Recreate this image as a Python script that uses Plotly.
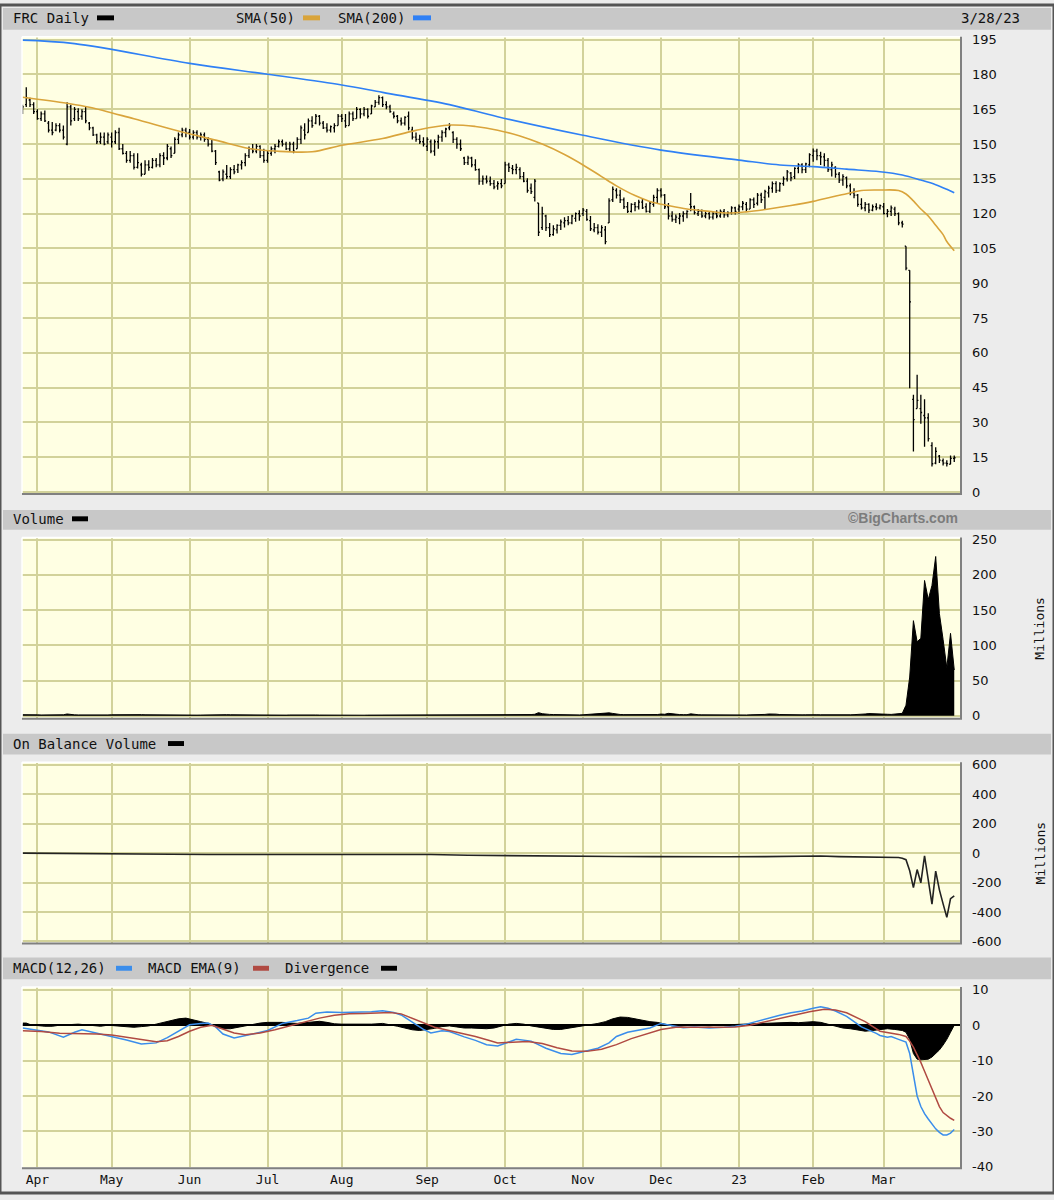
import pandas as pd
import plotly.graph_objects as go

W, H = 1054, 1200

# ---------------- trading calendar ----------------
holidays = ["2022-04-15", "2022-05-30", "2022-06-20", "2022-07-04", "2022-09-05",
            "2022-11-24", "2022-12-26", "2023-01-02", "2023-01-16", "2023-02-20"]
dates = [d for d in pd.bdate_range("2022-03-28", "2023-03-28")
         if d.strftime("%Y-%m-%d") not in holidays]
n = len(dates)
idx = list(range(n))

month_labels = ["Apr", "May", "Jun", "Jul", "Aug", "Sep", "Oct", "Nov", "Dec", "23", "Feb", "Mar"]
month_pos = []
_prev = None
for i, d in enumerate(dates):
    key = (d.year, d.month)
    if _prev is not None and key != _prev:
        month_pos.append(i)
    _prev = key

# ---------------- price data ----------------
opens = [164,167,169,167,164,161,163,159,156,156,158,156,150,166,161,164,162,164,159,157,
         154,151,153,151,153,151,155,148,146,143,145,140,141,137,141,140,143,141,145,144,
         148,146,152,154,156,155,153,155,153,154,152,150,147,138,135,137,136,139,139,141,
         142,145,148,147,149,145,143,146,148,149,151,150,148,150,148,152,156,155,160,159,
         162,159,157,156,157,158,162,160,158,163,161,165,163,165,163,166,168,170,167,166,
         163,162,160,159,162,156,153,152,151,149,151,147,151,153,155,157,155,152,150,144,
         142,144,141,139,134,135,134,133,132,133,133,141,139.5,139,139,136,134,131,127,124.6,
         114,119,114,111,113,115,116,117,116,118,120,120,121,117,113,114,112,113,116,126,
         130,128,126,123,121,124,123,125,123,121,124,127,130,128,123,119,117.5,118,119,120,
         124,123,120,121,119,120,118.5,120,119,121,119.5,120.5,122.5,122,123,124,122,126,124.5,128,
         127,129,131,133,130,133,135,137.5,136,139.5,141,139,141,145,147,145,144.5,143,139,140,
         137,134.5,135.5,132,129,128,124,122.5,124,121.5,123,122.5,123,120,121,122,120,116,106,95.6,
         40,36,36,33,32,20,12.5,15.5,13.5,12.5,12,14.5]
highs = [167,174.5,170,168,165,164,164.5,160,159.5,159,159,158,168,167,166,165.5,165,166,159.5,157.5,
         154.5,155,155,155,155,156,157,150,147,147,146,146,142,143,143,144,144,146,146.5,150,
         149,153,155,157,157,156.5,156,156,155,155,153,152,147.5,138.5,139,141,140,141,141.5,143,
         146,149,150,150,149.5,148,147,149,150,152,152,151,151,151,153,158,159,161,162,163,
         162.5,160,159,158,159,163,163,163,164,164,166,165.5,166,165.5,167,169,171,170.5,168.5,167,
         164,162.5,161.5,162,164,157.5,155,154,153,153,152,152,154,156,157,159,155.5,153,152,144.5,
         145,144.5,143.5,139.5,136.5,136.5,136,134.5,134,135,142.4,142,141,141.5,140,138,135.3,133,135,124.6,
         123,119.5,116,115,115.5,117.5,118.5,119,119.5,120.5,121.5,122.5,122,119,116,115.5,115,114.7,126.7,131.7,
         131,130.3,127,125,124.5,125,126,126.5,124.5,125,128.2,131,131,128.5,124.6,121,119.6,120.3,121,121.5,
         128.9,123.5,122,121.8,121,121,121,121.5,121.8,122,121,123.2,123,124,125.5,125,126.7,127,128.9,129,
         130.3,132,133.9,134,133.5,136,138.8,138,140,141.7,141.7,142,146,148.1,148,146.7,146,144,142.4,140.5,
         138,137,136,133,131,128.5,126.7,125,124.5,124,124.5,124,124.6,122,123.5,123,120.5,117,106,95.6,
         42,50.6,42,40,34,21.5,19.3,16,14.5,13.7,15.8,15.8]
lows = [163,166,166,163,160.5,160,159.5,155,153.8,155.5,155,152,149.5,158,160,160,160.5,159,156,153.5,
        150,150,149.5,150,148.5,150,147.5,145.5,142,142,139,139.5,136,137,138.5,139.5,140,140,141,143,
        144,146,150,153,153,152,152,152,151.5,151,149,146.5,141,134,134,135,135,137,137.5,139,
        140.5,144,146,146,144,142,142,145,146,148.5,149,147.5,147,146,148,150,152,155,157,158.5,
        158,156.5,155,155,155,158,159.5,157,158,160,161,161,162,161,163,166,167,166,165,163.5,
        161,159,158,158,156,152,151,150,149,147,146,145,148,151,153,156,150.5,148,147,141,
        141,140,138.5,132.5,132.5,133,132,130.5,130.3,131,133,138,137,137,135,133.5,129,128.5,125.3,110.4,
        113,112.5,110,110.5,111.5,113,114,115,115.5,116.5,117,119,117,112.5,112,111,110,106.8,116,125,
        126.5,124.6,122,120.3,120.5,121,121.8,122,120.5,120.3,123,124.6,127,122,117.5,116.5,116,115.4,116.5,118,
        121,119.6,119,118.2,118,117.5,117.5,118,118.2,118.2,118.5,119.6,119.6,120,121.5,121,122,122.5,123.5,124.6,
        121.8,127,129,128.9,129.5,132,133.9,134,135,137.4,137.4,137.5,140,142.4,143,141,140.3,138,136,135.5,
        133.2,132,131,128,126.7,123,121.8,121,120.3,121,121.5,121.8,119.6,118.5,119,119,115,114,95.6,44.8,
        17.5,36,29.5,19.5,21.8,11,12,12.5,11.5,11,12,13]
closes = [166,170,167,164,161,163,160,156,155,158,156,153,166,160,165,161,164,160,157,154,
          151,153,150,154,151,155,148,146,143,145,140,142,137,141,140,143,141,145,144,149,
          145,152,154,156,155,153,155,153,154,152,150,147,142,134.5,138,136,139,138,141,142,
          145,148,147,149,145,143,146,148,149,151,150,148,150,147,152,157,154,160,158,162,
          159,157,156,157.5,158,162,161,158,163,161,165,163,165,162,166.5,168,170,167,166,164,
          162,160,159,161.5,157,153,152,151,150,152,147,151,153,155,156.5,158,152,150,148,142,
          144,141,139,134,135,134,133,131.5,133,132,141,140,139,140,136,134,130,129.5,134,112,
          120,114,111,113.5,115,116.5,117,116,119,120,119,121.5,117.5,113.5,114,112,114,108,125.5,130.5,
          128,126,123,121,124,123,125,122.5,121,124.5,127,130,128,123,119,117.5,118.5,119,120,121,
          123,120.5,121,119,120,118.5,120,119,121,119.5,120.5,122.5,121,123,124.5,122,126,124,128,126,
          129.5,131,133,130,133,135,138,135.5,139.5,141,139,141.5,145.5,147,145,144.5,143,139,141,137,
          134.5,136,132,129,128,124,122.5,124,121.5,123,122.5,123.5,120,121,122.5,120,116,115.5,96.5,82,
          31.2,39.5,34.3,32,23,12.2,17.5,13.8,12.5,12.3,14.5,14.8]

# moving averages
sma50_idx = [0, 12, 18, 30, 43, 52, 61, 68, 78, 86, 97, 106, 115, 122, 128, 134, 140, 146, 151,
             156, 160, 165, 169, 174, 179, 185, 190, 195, 201, 207, 213, 218, 222, 226, 231, 236,
             238, 240, 242, 244, 246, 248, 249, 251]
sma50_val = [170.2, 167.6, 165.9, 160.9, 155.2, 151.7, 148.1, 147.0, 146.7, 149.5, 152.4, 155.9,
             158.2, 157.6, 156.0, 153.5, 150.0, 145.5, 141.0, 136.0, 132.0, 127.8, 125.3, 123.5,
             122.0, 121.0, 120.3, 120.8, 122.0, 123.5, 125.3, 127.2, 128.6, 130.0, 130.2, 130.0,
             128.5, 125.5, 122.0, 119.0, 115.0, 111.0, 108.0, 104.0]
sma200_idx = [0, 14, 45, 66, 86, 97, 115, 128, 151, 172, 193, 204, 213, 222, 231, 237, 242, 246,
              249, 251]
sma200_val = [194.8, 193.3, 184.8, 180.1, 175.5, 172.3, 167.0, 161.8, 153.8, 147.4, 143.1, 141.0,
              140.3, 139.2, 138.1, 136.7, 134.5, 132.5, 130.5, 129.0]

# ---------------- volume (millions) ----------------
volume = [1.6,1.8,1.4,1.3,1.4,1.2,1.3,1.5,1.4,1.2,1.3,1.5,2.6,1.8,1.4,1.3,1.2,1.4,1.3,1.5,
          1.6,1.3,1.4,1.3,1.5,1.6,1.9,1.7,1.6,1.4,1.8,1.6,1.7,1.5,1.4,1.3,1.3,1.2,1.2,1.4,
          1.3,1.5,1.4,1.3,1.2,1.2,1.1,1.0,1.1,1.2,1.3,1.5,1.9,2.4,1.8,1.6,1.5,1.4,1.3,1.3,
          1.2,1.3,1.2,1.1,1.2,1.3,1.1,1.0,1.1,1.2,1.1,1.0,1.2,1.3,1.4,1.8,1.6,1.4,1.3,1.2,
          1.1,1.0,1.0,1.1,1.0,1.2,1.1,1.1,1.0,0.9,1.0,0.9,0.9,1.0,1.0,1.1,1.2,1.0,1.0,0.9,
          1.0,0.9,0.9,1.0,1.2,1.4,1.1,1.0,1.0,1.1,1.2,1.2,1.0,1.1,1.0,1.1,1.2,1.3,1.3,1.6,
          1.4,1.5,1.6,1.8,1.5,1.4,1.5,1.6,1.3,1.4,1.7,1.5,1.3,1.3,1.4,1.5,1.6,1.8,2.2,4.5,
          3.0,2.2,2.0,1.8,1.6,1.5,1.4,1.4,1.3,1.4,1.3,1.5,1.8,2.6,2.8,3.2,3.5,4.0,4.2,3.4,
          2.4,1.9,1.7,1.6,1.5,1.4,1.3,1.4,1.3,1.4,1.6,1.8,2.5,2.2,3.5,2.6,1.9,1.8,1.7,1.6,
          2.8,1.8,1.6,1.4,1.3,1.3,1.2,1.3,1.2,1.2,1.1,1.2,1.3,1.4,1.3,1.2,1.4,1.3,1.5,1.6,
          2.0,2.6,3.0,2.4,1.8,1.6,1.7,1.5,1.6,1.5,1.4,1.5,1.8,1.7,1.6,1.5,1.4,1.3,1.4,1.3,
          1.4,1.5,1.6,1.5,1.7,1.8,2.0,2.6,3.2,2.8,2.6,2.0,1.8,2.2,2.0,2.4,3.0,3.5,15,55,
          135,105,110,192,165,185,226,145,108,68,117,65]

# ---------------- on balance volume (millions) ----------------
obv_idx = [0, 10, 20, 30, 40, 50, 60, 70, 80, 90, 100, 105, 110, 120, 130, 140, 150, 160, 170,
           180, 190, 200, 210, 215, 220, 225, 230, 234, 236, 237, 238, 239, 240, 241, 242, 243,
           244, 245, 246, 247, 248, 249, 250, 251]
obv_val = [0, -3, -5, -10, -8, -10, -10, -8, -8, -6, -7, -5, -10, -15, -18, -20, -22, -23, -24,
           -26, -25, -24, -18, -20, -24, -25, -26, -27, -30, -35, -45, -120, -235, -112, -202, -18,
           -180, -347, -123, -250, -345, -437, -310, -290]

# ---------------- MACD ----------------
macd_idx = [0, 3, 7, 11, 14, 16, 19, 24, 28, 32, 36, 39, 42, 45, 48, 50, 52, 54, 57, 60, 62, 66,
            70, 74, 77, 79, 82, 86, 91, 94, 97, 100, 102, 104, 106, 108, 110, 113, 115, 117, 119,
            122, 125, 128, 133, 137, 141, 145, 148, 151, 155, 158, 160, 163, 166, 169, 172, 175,
            178, 181, 185, 189, 192, 195, 198, 201, 204, 207, 210, 213, 215, 217, 219, 222, 226,
            230, 231, 233, 234, 236, 237, 238, 239, 240, 241, 242, 243, 244, 245, 246, 247, 248,
            249, 250, 251]
macd_val = [-0.8, -1.2, -1.9, -3.4, -2.0, -1.3, -2.0, -3.1, -4.2, -5.3, -5.0, -3.5, -1.7, 0.1, 0.5,
            0.6, -0.5, -2.5, -3.6, -3.0, -2.5, -1.5, 0.5, 1.3, 2.0, 3.4, 3.7, 3.6, 3.7, 3.8, 4.1, 3.6,
            2.9, 1.5, 0.1, -1.2, -2.2, -1.6, -1.8, -2.6, -3.3, -4.3, -5.5, -5.9, -4.0, -4.5, -6.5,
            -8.0, -8.3, -7.5, -6.5, -5.0, -3.2, -2.0, -1.5, -0.8, 0.5, 0.0, -0.7, -0.5, -0.8, -0.6,
            -0.3, 0.3, 1.2, 2.0, 2.8, 3.5, 4.0, 4.8, 5.2, 4.8, 4.0, 2.5, -0.5, -2.3, -2.9, -3.4,
            -3.2, -4.0, -4.3, -4.8, -8.0, -14.0, -20.0, -23.0, -25.0, -26.5, -28.0, -29.3, -30.3,
            -31.0, -31.0, -30.5, -29.5]
signal_idx = [0, 5, 10, 15, 20, 24, 28, 32, 36, 39, 42, 45, 48, 51, 54, 57, 60, 64, 68, 72, 76,
              80, 84, 88, 92, 96, 99, 102, 105, 108, 111, 114, 118, 122, 126, 128, 132, 136, 140,
              144, 148, 152, 156, 160, 164, 168, 172, 176, 180, 184, 188, 192, 196, 200, 204, 208,
              212, 216, 219, 222, 227, 231, 236, 238, 239, 240, 241, 242, 243, 244, 245, 246, 247,
              248, 249, 250, 251]
signal_val = [-1.6, -1.8, -2.3, -2.3, -2.5, -2.8, -3.4, -4.0, -4.7, -4.4, -3.2, -1.7, -0.6, 0.0,
              -1.0, -2.2, -2.7, -2.2, -1.3, -0.2, 1.0, 2.0, 2.8, 3.2, 3.3, 3.5, 3.6, 3.2, 2.0, 0.6,
              -0.6, -1.3, -2.2, -3.2, -4.4, -5.0, -4.8, -4.6, -5.2, -6.4, -7.3, -7.4, -6.8, -5.5,
              -3.8, -2.4, -1.2, -0.6, -0.5, -0.6, -0.6, -0.5, 0.0, 1.0, 2.0, 3.0, 3.8, 4.5, 4.3, 3.5,
              1.0, -1.7, -2.6, -3.2, -4.5, -6.2, -8.2, -10.5, -13.0, -15.5, -18.0, -21.0, -23.0,
              -24.7, -25.6, -26.3, -26.9]
div_idx = [0, 1, 2, 3, 6, 8, 10, 13, 15, 17, 19, 21, 23, 26, 28, 30, 32, 34, 36, 38, 40, 42, 44,
           46, 48, 50, 52, 54, 56, 58, 60, 62, 64, 66, 68, 70, 72, 74, 76, 78, 80, 82, 84, 86, 90,
           94, 97, 99, 101, 103, 105, 107, 109, 111, 113, 115, 117, 119, 121, 123, 125, 127, 129,
           131, 133, 135, 137, 139, 141, 143, 145, 147, 149, 151, 153, 155, 157, 159, 161, 163,
           165, 167, 169, 171, 173, 175, 177, 179, 181, 183, 185, 187, 189, 191, 193, 195, 197,
           199, 201, 203, 205, 207, 209, 211, 213, 215, 217, 219, 221, 223, 225, 227, 229, 231,
           233, 235, 237, 238, 239, 240, 241, 242, 243, 244, 245, 246, 247, 248, 249, 250, 251]
div_val = [0.6, 0.6, 0.2, 0.0, -0.3, -0.3, 0.0, 0.2, 0.3, 0.1, -0.2, -0.3, 0.0, -0.3, -0.5, -0.6,
           -0.4, -0.2, 0.3, 0.8, 1.3, 1.8, 2.0, 1.6, 1.0, 0.5, -0.3, -1.0, -1.0, -0.6, -0.2, 0.3,
           0.6, 0.8, 0.9, 0.8, 0.6, 0.5, 0.7, 1.0, 1.1, 0.8, 0.4, 0.3, 0.2, 0.3, 0.5, 0.2, -0.3,
           -0.8, -1.3, -1.5, -1.3, -0.9, -0.4, -0.2, -0.5, -0.8, -0.8, -0.9, -1.0, -0.8, -0.3, 0.3,
           0.5, 0.3, -0.2, -0.6, -1.0, -1.2, -1.2, -0.9, -0.6, -0.2, 0.2, 0.5, 1.0, 1.8, 2.3, 2.2,
           1.8, 1.3, 1.0, 0.8, 0.3, -0.2, -0.3, -0.2, 0.1, -0.1, -0.2, 0.0, 0.1, 0.2, 0.3, 0.4,
           0.5, 0.5, 0.6, 0.7, 0.8, 0.8, 0.7, 0.8, 1.0, 0.8, 0.3, -0.3, -0.8, -1.0, -1.4, -1.7,
           -1.5, -1.2, -1.0, -1.2, -1.5, -2.0, -4.0, -8.0, -9.6, -9.8, -9.8, -9.6, -9.0, -8.0,
           -7.0, -5.6, -4.0, -2.0, 0.0]

# ---------------- helpers ----------------
def PX(x):
    return x / W


def PY(y):
    return 1 - y / H


X_RANGE = [-0.15, 252.55]
PLOT_L, PLOT_R = 22, 960
panels = {  # top, bottom in pixels
    "price": (32, 493),
    "vol": (538, 720),
    "obv": (765, 947),
    "macd": (992, 1174),
}
GRID = "#D2D29A"
MONO = "DejaVu Sans Mono"
SANS = "DejaVu Sans"

fig = go.Figure()

# price
fig.add_trace(go.Ohlc(x=idx, open=opens, high=highs, low=lows, close=closes,
                      increasing=dict(line=dict(color="black", width=1.3)),
                      decreasing=dict(line=dict(color="black", width=1.3)),
                      tickwidth=0.35, xaxis="x", yaxis="y", hoverinfo="skip"))
fig.add_trace(go.Scatter(x=sma50_idx, y=sma50_val, mode="lines", line_shape="spline",
                         line=dict(color="#D9A43B", width=1.6), xaxis="x", yaxis="y"))
fig.add_trace(go.Scatter(x=sma200_idx, y=sma200_val, mode="lines", line_shape="spline",
                         line=dict(color="#2F80F5", width=1.6), xaxis="x", yaxis="y"))
# volume
fig.add_trace(go.Scatter(x=idx, y=volume, mode="lines", fill="tozeroy", fillcolor="black",
                         line=dict(color="black", width=1), xaxis="x2", yaxis="y2"))
# OBV
fig.add_trace(go.Scatter(x=obv_idx, y=obv_val, mode="lines",
                         line=dict(color="#222222", width=1.6), xaxis="x3", yaxis="y3"))
# MACD
fig.add_trace(go.Scatter(x=div_idx, y=div_val, mode="lines", fill="tozeroy", fillcolor="black",
                         line=dict(color="black", width=1), xaxis="x4", yaxis="y4"))
fig.add_trace(go.Scatter(x=macd_idx, y=macd_val, mode="lines",
                         line=dict(color="#3A8DEB", width=1.5), xaxis="x4", yaxis="y4"))
fig.add_trace(go.Scatter(x=signal_idx, y=signal_val, mode="lines",
                         line=dict(color="#B04A42", width=1.5), xaxis="x4", yaxis="y4"))


def xaxis(anchor, show):
    return dict(domain=[PX(PLOT_L), PX(PLOT_R)], anchor=anchor, range=X_RANGE,
                tickmode="array", tickvals=month_pos, ticktext=month_labels,
                showticklabels=show, showgrid=True, gridcolor=GRID, gridwidth=1.5,
                zeroline=False, showline=False, ticks="", fixedrange=True,
                ticklabelstandoff=3,
                tickfont=dict(family=MONO, size=13, color="#111111"),
                rangeslider=dict(visible=False))


def yaxis(anchor, key, rng, vals, texts, zero=False):
    top, bot = panels[key]
    d = dict(domain=[PY(bot), PY(top)], anchor=anchor, side="right", range=rng,
             tickmode="array", tickvals=vals, ticktext=texts, showgrid=True,
             gridcolor=GRID, gridwidth=1.5, zeroline=zero, showline=False, ticks="",
             ticklabelstandoff=11, fixedrange=True,
             tickfont=dict(family=SANS, size=13, color="#111111"))
    if zero:
        d.update(zerolinecolor="black", zerolinewidth=2)
    return d


price_ticks = list(range(0, 196, 15))
vol_ticks = [0, 50, 100, 150, 200, 250]
obv_ticks = [-600, -400, -200, 0, 200, 400, 600]
macd_ticks = [-40, -30, -20, -10, 0, 10]

fig.update_layout(
    width=W, height=H, margin=dict(l=0, r=0, t=0, b=0),
    paper_bgcolor="#ECECEC", plot_bgcolor="#FFFFE3", showlegend=False,
    xaxis=xaxis("y", False), xaxis2=xaxis("y2", False), xaxis3=xaxis("y3", False),
    xaxis4=xaxis("y4", True),
    yaxis=yaxis("x", "price", [-0.43, 196.3], price_ticks, [str(v) for v in price_ticks]),
    yaxis2=yaxis("x2", "vol", [-2.8, 252.8], vol_ticks, [str(v) for v in vol_ticks]),
    yaxis3=yaxis("x3", "obv", [-608, 617], obv_ticks, [str(v) for v in obv_ticks]),
    yaxis4=yaxis("x4", "macd", [-40.15, 10.77], macd_ticks, [str(v) for v in macd_ticks], zero=True),
)

shapes = []
annotations = []

# header strips
strips = [(3, 25), (510, 530), (736, 757), (962, 984)]
for t, b in strips:
    shapes.append(dict(type="rect", xref="paper", yref="paper", x0=PX(3), x1=PX(1051),
                       y0=PY(b), y1=PY(t), fillcolor="#C8C8C8", line=dict(width=0), layer="below"))

# plot borders (3D look)
for key, (t, b) in panels.items():
    shapes.append(dict(type="line", xref="paper", yref="paper", x0=PX(PLOT_L), x1=PX(PLOT_R),
                       y0=PY(t), y1=PY(t), line=dict(color="#FFFFFF", width=1.5)))
    shapes.append(dict(type="line", xref="paper", yref="paper", x0=PX(PLOT_L), x1=PX(PLOT_L),
                       y0=PY(b), y1=PY(t), line=dict(color="#FFFFFF", width=1.5)))
    shapes.append(dict(type="line", xref="paper", yref="paper", x0=PX(PLOT_R + 1), x1=PX(PLOT_R + 1),
                       y0=PY(b + 1), y1=PY(t), line=dict(color="#808080", width=2)))
    shapes.append(dict(type="line", xref="paper", yref="paper", x0=PX(PLOT_L), x1=PX(PLOT_R + 2),
                       y0=PY(b + 1), y1=PY(b + 1), line=dict(color="#808080", width=2)))

# outer frame
shapes.append(dict(type="rect", xref="paper", yref="paper", x0=0, x1=1, y0=0, y1=1,
                   line=dict(color="#555555", width=3), fillcolor="rgba(0,0,0,0)"))


def text(x, y, s, anchor="left", size=14, color="#111111", family=MONO, **kw):
    annotations.append(dict(xref="paper", yref="paper", x=PX(x), y=PY(y), text=s,
                            showarrow=False, xanchor=anchor, yanchor="middle",
                            font=dict(family=family, size=size, color=color), **kw))


def swatch(x0, x1, y, color):
    shapes.append(dict(type="rect", xref="paper", yref="paper", x0=PX(x0), x1=PX(x1),
                       y0=PY(y + 2.5), y1=PY(y - 2.5), fillcolor=color, line=dict(width=0)))


# header texts and legend keys
text(11, 13, "FRC Daily")
swatch(97, 114, 13, "black")
text(234, 13, "SMA(50)")
swatch(303, 320, 13, "#D9A43B")
text(336, 13, "SMA(200)")
swatch(413, 431, 13, "#2F80F5")
text(1022, 13, "3/28/23", anchor="right")

text(11, 519, "Volume")
swatch(72, 88, 519, "black")
text(960, 518, "<b>©BigCharts.com</b>", anchor="right", size=14, color="#7C7C7C",
     family="Liberation Sans")

text(11, 746, "On Balance Volume")
swatch(168, 184, 746, "black")

text(11, 973, "MACD(12,26)")
swatch(116, 132, 973, "#3A8DEB")
text(146, 973, "MACD EMA(9)")
swatch(253, 269, 973, "#B04A42")
text(283, 973, "Divergence")
swatch(381, 397, 973, "black")

text(1040, 630, "Millions", anchor="center", size=13, textangle=-90)
text(1040, 857, "Millions", anchor="center", size=13, textangle=-90)

fig.update_layout(shapes=shapes, annotations=annotations)
fig.write_html("out.html", config={"displayModeBar": False},
               post_script="document.body.style.margin='0';document.body.style.overflow='hidden';")
